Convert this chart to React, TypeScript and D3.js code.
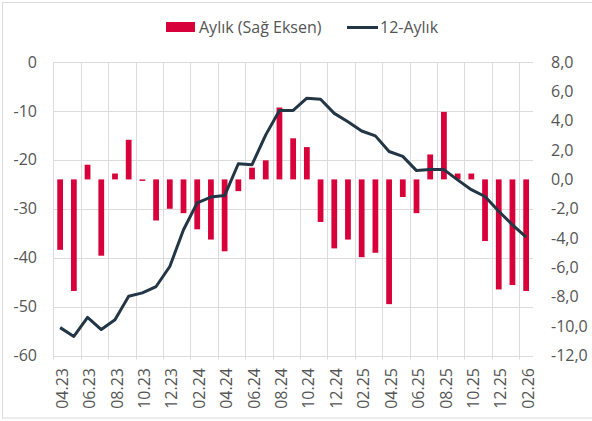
import { useMemo } from "react";
import * as d3 from "d3";

const months = [
  "04.23", "05.23", "06.23", "07.23", "08.23", "09.23", "10.23", "11.23", "12.23",
  "01.24", "02.24", "03.24", "04.24", "05.24", "06.24", "07.24", "08.24", "09.24",
  "10.24", "11.24", "12.24", "01.25", "02.25", "03.25", "04.25", "05.25", "06.25",
  "07.25", "08.25", "09.25", "10.25", "11.25", "12.25", "01.26", "02.26",
];

// Aylık (Sağ Eksen)
const monthly = [
  -4.8, -7.6, 1.0, -5.2, 0.4, 2.7, -0.1, -2.8, -2.0,
  -2.3, -3.4, -4.1, -4.9, -0.8, 0.8, 1.3, 4.9, 2.8,
  2.2, -2.9, -4.7, -4.1, -5.3, -5.0, -8.5, -1.2, -2.3,
  1.7, 4.6, 0.4, 0.4, -4.2, -7.5, -7.2, -7.6,
];

// 12-Aylık (sol eksen)
const annual = [
  -54.3, -56.1, -52.2, -54.7, -52.7, -47.9, -47.2, -45.9, -41.8,
  -34.3, -28.8, -27.6, -27.3, -20.8, -21.0, -14.9, -9.9, -9.9,
  -7.4, -7.6, -10.5, -12.2, -14.1, -15.1, -18.3, -19.3, -22.2,
  -22.0, -22.0, -24.1, -26.1, -27.5, -30.5, -33.3, -35.8,
];

const leftTicks = [0, -10, -20, -30, -40, -50, -60];
const rightTicks = [8, 6, 4, 2, 0, -2, -4, -6, -8, -10, -12];

const W = 592;
const H = 421;
const plot = { left: 53.3, right: 533, top: 62, bottom: 355.5 };
const RED = "#d7003a";
const NAVY = "#233645";
const TEXT = "#555555";
const GRID = "#dcdcdc";
const FONT = "'Open Sans', sans-serif";
const FS = 16;

export default function App() {
  const x = useMemo(
    () => d3.scaleBand().domain(months).range([plot.left, plot.right]).padding(0),
    []
  );
  const yLeft = d3.scaleLinear().domain([-60, 0]).range([plot.bottom, plot.top]);
  const yRight = d3.scaleLinear().domain([-12, 8]).range([plot.bottom, plot.top]);

  const cx = (m: string) => (x(m) ?? 0) + x.bandwidth() / 2;
  const barW = x.bandwidth() * 0.42;

  const linePath = d3
    .line<number>()
    .x((_, i) => cx(months[i]))
    .y((d) => yLeft(d))(annual);

  const fmt = (v: number) => v.toFixed(1).replace(".", ",");

  return (
    <svg
      width={W}
      height={H}
      style={{ position: "absolute", left: 0, top: 0, background: "#fff" }}
      fontFamily={FONT}
    >
      {/* outer frame */}
      <rect x={2.5} y={2.5} width={W + 10} height={415.5} fill="none" stroke={GRID} />

      {/* legend */}
      <rect x={166} y={22} width={29} height={10} fill={RED} />
      <text x={199} y={33} fontSize={FS} fill={TEXT}>
        Aylık (Sağ Eksen)
      </text>
      <line x1={347} x2={378} y1={27.5} y2={27.5} stroke={NAVY} strokeWidth={3} />
      <text x={380} y={33} fontSize={FS} fill={TEXT}>
        12-Aylık
      </text>

      {/* horizontal grid */}
      {leftTicks.map((t) => (
        <line
          key={"h" + t}
          x1={plot.left}
          x2={plot.right}
          y1={Math.round(yLeft(t)) + 0.5}
          y2={Math.round(yLeft(t)) + 0.5}
          stroke={GRID}
        />
      ))}
      {/* vertical grid every 2 months */}
      {months.map((m, i) =>
        i % 2 === 0 ? (
          <line
            key={"v" + m}
            x1={Math.round(x(m) ?? 0) + 0.5}
            x2={Math.round(x(m) ?? 0) + 0.5}
            y1={plot.top}
            y2={plot.bottom + 4}
            stroke={GRID}
          />
        ) : null
      )}

      {/* bars */}
      {monthly.map((v, i) => {
        const y0 = yRight(0);
        const y1 = yRight(v);
        return (
          <rect
            key={"b" + i}
            x={cx(months[i]) - barW / 2}
            y={Math.min(y0, y1)}
            width={barW}
            height={Math.max(1.5, Math.abs(y1 - y0))}
            fill={RED}
          />
        );
      })}

      {/* 12-month line */}
      <path d={linePath ?? ""} fill="none" stroke={NAVY} strokeWidth={3} strokeLinejoin="round" />

      {/* left axis */}
      {leftTicks.map((t) => (
        <text
          key={"l" + t}
          x={37}
          y={yLeft(t)}
          dy="0.35em"
          textAnchor="end"
          fontSize={FS}
          fill={TEXT}
        >
          {t}
        </text>
      ))}

      {/* right axis */}
      {rightTicks.map((t) => (
        <text
          key={"r" + t}
          x={551}
          y={yRight(t)}
          dy="0.35em"
          textAnchor="start"
          fontSize={FS}
          fill={TEXT}
        >
          {fmt(t)}
        </text>
      ))}

      {/* x labels */}
      {months.map((m, i) =>
        i % 2 === 0 ? (
          <text
            key={"x" + m}
            transform={`translate(${cx(m) + 2},368) rotate(-90)`}
            dy="0.35em"
            textAnchor="end"
            fontSize={FS}
            fill={TEXT}
          >
            {m}
          </text>
        ) : null
      )}
    </svg>
  );
}
